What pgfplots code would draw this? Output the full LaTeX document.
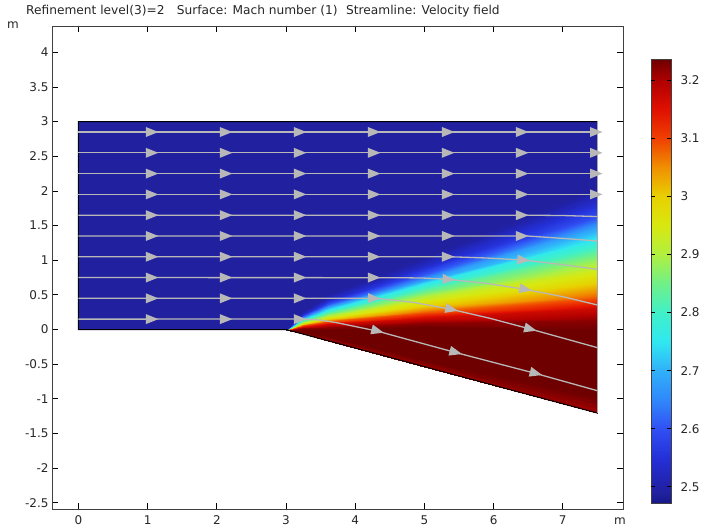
\documentclass[border=0pt]{standalone}
\usepackage{fontspec}
\setmainfont{DejaVu Sans}
\usepackage{pgfplots}
\usepackage{pgfplotstable}
\pgfplotsset{compat=1.18}

% one page point is one pixel of the reference
\pgfplotsset{
  /pgf/number format/assume math mode=true,
  colormap={comsolrainbow}{
    rgb255(0pt)=(24,24,138);
    rgb255(18pt)=(33,33,160);
    rgb255(28pt)=(33,33,168);
    rgb255(78pt)=(36,48,216);
    rgb255(128pt)=(48,80,244);
    rgb255(178pt)=(48,136,250);
    rgb255(228pt)=(48,176,250);
    rgb255(278pt)=(48,232,240);
    rgb255(328pt)=(64,240,200);
    rgb255(378pt)=(112,240,136);
    rgb255(428pt)=(176,240,64);
    rgb255(478pt)=(216,232,16);
    rgb255(528pt)=(232,208,0);
    rgb255(578pt)=(240,144,0);
    rgb255(628pt)=(240,64,0);
    rgb255(678pt)=(224,16,0);
    rgb255(728pt)=(176,0,0);
    rgb255(765pt)=(110,0,0)
  }
}
\definecolor{stream}{RGB}{184,184,184}
\definecolor{framecol}{RGB}{64,64,64}

\pgfdeclareplotmark{flow}{%
  \pgfpathmoveto{\pgfqpoint{-6pt}{-5pt}}%
  \pgfpathlineto{\pgfqpoint{6.5pt}{0pt}}%
  \pgfpathlineto{\pgfqpoint{-6pt}{5pt}}%
  \pgfpathclose
  \pgfusepathqfill
}

% lines of equal Mach number in the fan, one row per line
\pgfplotstableread{
x y c
3 0 3.207
3.25 -0.0670 3.207
3.6 -0.1608 3.207
5 -0.5360 3.207
7.5 -1.206 3.207
3 0 3.237
3.25 -0.035 3.237
3.6 -0.095 3.237
5 -0.44 3.237
7.5 -0.97 3.237
3 0 3.237
3.25 0 3.237
3.6 -0.012 3.237
5 0.04 3.237
7.5 0 3.237
3 0 3.22
3.25 0.02 3.22
3.6 0.036 3.22
5 0.09 3.22
7.5 0.137 3.22
3 0 3.17
3.25 0.0425 3.17
3.6 0.078 3.17
5 0.17 3.17
7.5 0.31 3.17
3 0 3.08
3.25 0.0625 3.08
3.6 0.12 3.08
5 0.25 3.08
7.5 0.47 3.08
3 0 3.0
3.25 0.0775 3.0
3.6 0.15 3.0
5 0.34 3.0
7.5 0.67 3.0
3 0 2.93
3.25 0.0925 2.93
3.6 0.18 2.93
5 0.44 2.93
7.5 0.87 2.93
3 0 2.84
3.25 0.1175 2.84
3.6 0.234 2.84
5 0.55 2.84
7.5 1.10 2.84
3 0 2.76
3.25 0.145 2.76
3.6 0.282 2.76
5 0.66 2.76
7.5 1.29 2.76
3 0 2.68
3.25 0.17 2.68
3.6 0.324 2.68
5 0.72 2.68
7.5 1.48 2.68
3 0 2.6
3.25 0.195 2.6
3.6 0.372 2.6
5 0.80 2.6
7.5 1.63 2.6
3 0 2.53
3.25 0.225 2.53
3.6 0.432 2.53
5 0.92 2.53
7.5 1.87 2.53
3 0 2.49
3.25 0.2625 2.49
3.6 0.51 2.49
5 1.04 2.49
7.5 2.04 2.49
3 3 2.49
3.25 3 2.49
3.6 3 2.49
5 3 2.49
7.5 3 2.49
}\fantable

\pgfplotstableread{
x y c
0 0 2.49
3.01 0 2.49
0 3 2.49
3.01 3 2.49
}\inlettable

\pgfplotstableread{
x y c
0 2.472 2.472
1 2.472 2.472
0 3.237 3.237
1 3.237 3.237
}\scaletable

\begin{document}
\begin{tikzpicture}
\path[use as bounding box] (0pt,0pt) rectangle (705pt,532pt);
\begin{axis}[
  at={(52pt,23pt)},anchor=south west,
  scale only axis,width=571pt,height=483pt,
  xmin=-0.383,xmax=7.87,ymin=-2.59,ymax=4.38,
  axis line style={framecol,line width=0.9pt},
  tick align=inside,tick pos=both,
  major tick length=6pt,
  tick style={black,line width=0.8pt},
  xtick={0,1,2,3,4,5,6,7},
  ytick={-2.5,-2,-1.5,-1,-0.5,0,0.5,1,1.5,2,2.5,3,3.5,4},
  xticklabel pos=bottom,yticklabel pos=left,
  tick label style={font=\fontsize{12}{14}\selectfont,black!85},
  xticklabel style={yshift=-3pt},
  point meta min=2.472,point meta max=3.237,
  colormap name=comsolrainbow,
]
\addplot[surf,shader=interp,mesh/rows=2,point meta=\thisrow{c}] table {\inlettable};
\addplot[surf,shader=interp,mesh/rows=15,point meta=\thisrow{c}] table {\fantable};

% domain outline
\addplot[black,line width=1pt] coordinates {(7.5,3)(0,3)(0,0)(3,0)(7.5,-1.206)};
\addplot[gray!70,line width=1.2pt] coordinates {(7.5,3)(7.5,-1.206)};

% streamlines
\addplot[stream,line width=1.3pt] coordinates {(0,2.85)(7.5,2.85)};
\addplot[stream,line width=1.3pt] coordinates {(0,2.55)(7.5,2.55)};
\addplot[stream,line width=1.3pt] coordinates {(0,2.25)(7.5,2.25)};
\addplot[stream,line width=1.3pt] coordinates {(0,1.95)(7.5,1.95)};
\addplot[stream,line width=1.3pt] coordinates {(0,1.65)(6.48,1.65)(7.0,1.645)(7.5,1.63)};
\addplot[stream,line width=1.3pt] coordinates {(0,1.35)(6.48,1.35)(7.0,1.315)(7.5,1.277)};
\addplot[stream,line width=1.3pt] coordinates {(0,1.05)(5.37,1.05)(5.90,1.032)(6.43,1.003)(6.96,0.941)(7.5,0.868)};
\addplot[stream,line width=1.3pt] coordinates {(0,0.75)(4.60,0.748)(4.98,0.743)(5.35,0.724)(5.90,0.666)(6.45,0.580)(7.0,0.474)(7.5,0.354)};
\addplot[stream,line width=1.3pt] coordinates {(0,0.45)(4.31,0.450)(4.84,0.392)(5.39,0.291)(5.95,0.161)(6.53,0.007)(7.5,-0.262)};
\addplot[stream,line width=1.3pt] coordinates {(0,0.15)(3.25,0.151)(3.49,0.137)(3.73,0.099)(4.31,-0.021)(5.44,-0.329)(6.60,-0.632)(7.5,-0.883)};

% arrows on the streamlines, grouped by their angle
\addplot[only marks,mark=flow,stream] coordinates {
  (1.06,2.85)(2.13,2.85)(3.2,2.85)(4.27,2.85)(5.34,2.85)(6.41,2.85)(7.48,2.85)
  (1.06,2.55)(2.13,2.55)(3.2,2.55)(4.27,2.55)(5.34,2.55)(6.41,2.55)(7.48,2.55)
  (1.06,2.25)(2.13,2.25)(3.2,2.25)(4.27,2.25)(5.34,2.25)(6.41,2.25)(7.48,2.25)
  (1.06,1.95)(2.13,1.95)(3.2,1.95)(4.27,1.95)(5.34,1.95)(6.41,1.95)(7.48,1.95)
  (1.06,1.65)(2.13,1.65)(3.2,1.65)(4.27,1.65)(5.34,1.65)(6.41,1.65)
  (1.06,1.35)(2.13,1.35)(3.2,1.35)(4.27,1.35)(5.34,1.35)(6.41,1.35)
  (1.06,1.05)(2.13,1.05)(3.2,1.05)(4.27,1.05)(5.34,1.05)
  (1.06,0.75)(2.13,0.75)(3.2,0.75)(4.27,0.75)
  (1.06,0.45)(2.13,0.45)(3.2,0.45)
  (1.06,0.15)(2.13,0.15)(3.2,0.15)
};
\addplot[only marks,mark=flow,stream,mark options={rotate=-2}] coordinates {(4.27,0.45)};
\addplot[only marks,mark=flow,stream,mark options={rotate=-4}] coordinates {(6.43,1.003)(5.35,0.724)};
\addplot[only marks,mark=flow,stream,mark options={rotate=-10}] coordinates {(6.46,0.580)};
\addplot[only marks,mark=flow,stream,mark options={rotate=-13}] coordinates {(5.39,0.291)};
\addplot[only marks,mark=flow,stream,mark options={rotate=-15}] coordinates {(6.53,0.007)(4.32,-0.021)(5.45,-0.329)(6.61,-0.632)};
\end{axis}

% colour scale
\begin{axis}[
  at={(651pt,29pt)},anchor=south west,
  scale only axis,width=20pt,height=444pt,
  xmin=0,xmax=1,ymin=2.472,ymax=3.237,
  xtick=\empty,
  ytick={2.5,2.6,2.7,2.8,2.9,3,3.1,3.2},
  ytick pos=right,yticklabel pos=right,
  major tick length=0pt,
  axis on top,
  axis line style={framecol,line width=0.8pt},
  tick label style={font=\fontsize{12}{14}\selectfont,black!85},
  yticklabel style={xshift=6pt,/pgf/number format/fixed},
  point meta min=2.472,point meta max=3.237,
  colormap name=comsolrainbow,
]
\addplot[surf,shader=interp,mesh/rows=2,point meta=\thisrow{c}] table {\scaletable};
\end{axis}

% ticks of the colour scale, in an axis of their own above the shading
\begin{axis}[
  at={(651pt,29pt)},anchor=south west,
  scale only axis,width=20pt,height=444pt,
  xmin=0,xmax=1,ymin=2.472,ymax=3.237,
  hide axis,
]
\addplot[black,line width=1pt] coordinates {(0,2.5)(0.2,2.5)};
\addplot[black,line width=1pt] coordinates {(0.8,2.5)(1,2.5)};
\addplot[black,line width=1pt] coordinates {(0,2.6)(0.2,2.6)};
\addplot[black,line width=1pt] coordinates {(0.8,2.6)(1,2.6)};
\addplot[black,line width=1pt] coordinates {(0,2.7)(0.2,2.7)};
\addplot[black,line width=1pt] coordinates {(0.8,2.7)(1,2.7)};
\addplot[black,line width=1pt] coordinates {(0,2.8)(0.2,2.8)};
\addplot[black,line width=1pt] coordinates {(0.8,2.8)(1,2.8)};
\addplot[black,line width=1pt] coordinates {(0,2.9)(0.2,2.9)};
\addplot[black,line width=1pt] coordinates {(0.8,2.9)(1,2.9)};
\addplot[black,line width=1pt] coordinates {(0,3.0)(0.2,3.0)};
\addplot[black,line width=1pt] coordinates {(0.8,3.0)(1,3.0)};
\addplot[black,line width=1pt] coordinates {(0,3.1)(0.2,3.1)};
\addplot[black,line width=1pt] coordinates {(0.8,3.1)(1,3.1)};
\addplot[black,line width=1pt] coordinates {(0,3.2)(0.2,3.2)};
\addplot[black,line width=1pt] coordinates {(0.8,3.2)(1,3.2)};
\end{axis}

\node[anchor=base west,font=\fontsize{12.2}{14}\selectfont,text=black!85,inner sep=0pt] at (26pt,517pt)
  {Refinement level(3)=2\hspace{1em}Surface: Mach number (1)\hspace{0.7em}Streamline: Velocity field};
\node[anchor=base,font=\fontsize{12}{14}\selectfont,text=black!85,inner sep=0pt] at (13pt,503pt) {m};
\node[anchor=base,font=\fontsize{12}{14}\selectfont,text=black!85,inner sep=0pt] at (620pt,7pt) {m};
\end{tikzpicture}
\end{document}
